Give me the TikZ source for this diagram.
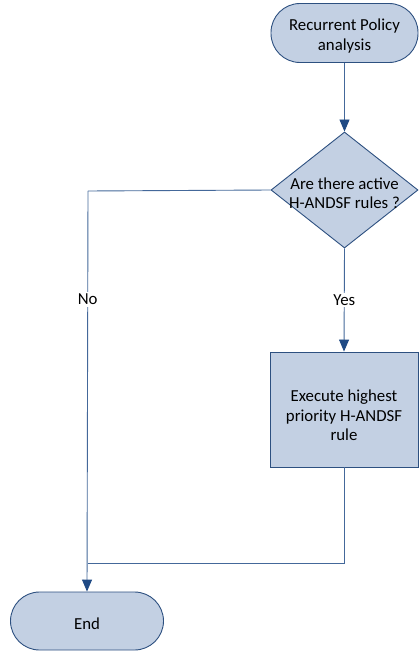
\documentclass[tikz,border=0pt]{standalone}
\usepackage{fontspec}
\setmainfont{Carlito}
\usetikzlibrary{arrows.meta,shapes.geometric}
\definecolor{shapefill}{HTML}{C3D0E3}
\definecolor{shapeborder}{HTML}{2D5080}
\definecolor{linecol}{HTML}{44689A}
\definecolor{tipcol}{HTML}{1F4A85}
\tikzset{
  x=1pt,y=-1pt,
  every node/.style={font=\fontsize{16.8}{19.5}\selectfont, align=center},
  terminal/.style={draw=shapeborder, fill=shapefill, line width=0.9pt, rectangle, rounded corners=29pt, inner sep=0pt},
  decision/.style={draw=shapeborder, fill=shapefill, line width=0.9pt, diamond, inner sep=0pt},
  process/.style={draw=shapeborder, fill=shapefill, line width=0.9pt, rectangle, inner sep=0pt},
  txt/.style={inner sep=0pt},
  conn/.style={draw=linecol, line width=0.9pt},
  arr/.style={conn, -{Triangle[width=10pt,length=12pt,color=tipcol]}},
  lbl/.style={fill=white, inner sep=2pt}
}
\begin{document}
\begin{tikzpicture}
\useasboundingbox (0,0) rectangle (418,652);
\node[terminal, minimum width=147pt, minimum height=59pt] (start) at (344.5,33) {};
\node[txt] (starttext) at ([yshift=-3pt]start.center) {Recurrent Policy\\analysis};
\node[decision, minimum width=147pt, minimum height=116pt] (dec) at (344.5,190) {};
\node[txt] (dectext) at ([yshift=-3pt]dec.center) {Are there active\\H-ANDSF rules ?};
\node[process, minimum width=148pt, minimum height=115pt] (exec) at (344,409.5) {};
\node[txt] (exectext) at ([yshift=-6pt]exec.center) {Execute highest\\priority H-ANDSF\\rule};
\node[terminal, minimum width=153pt, minimum height=58pt] (end) at (87,621) {};
\node[txt] (endtext) at ([yshift=-3pt]end.center) {End};
\coordinate (join) at (88,563);
\coordinate (nobend) at (88,191);
\draw[arr] (start.south) -- (dec.north);
\draw[arr] (dec.south) -- node[lbl] {Yes} (exec.north);
\draw[conn] (dec.west) -- (nobend);
\draw[arr] (nobend) -- node[lbl, pos=0.27] (nolabel) {No} (end.north);
\draw[conn] (exec.south) |- (join);
\end{tikzpicture}
\end{document}
